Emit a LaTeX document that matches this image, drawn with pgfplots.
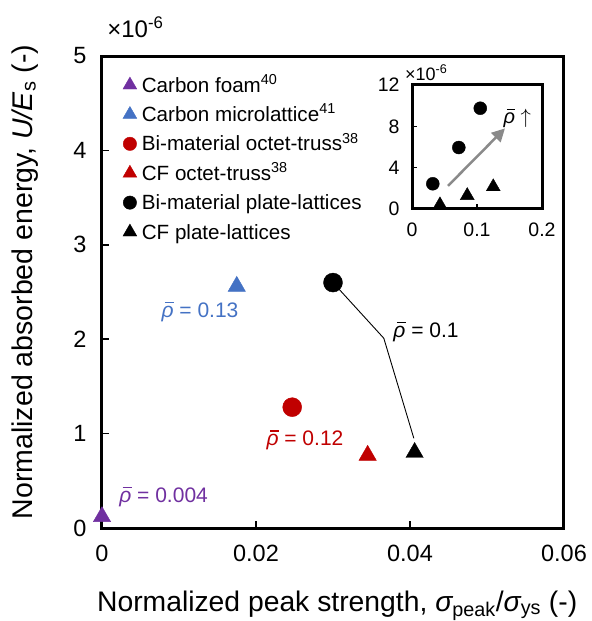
\documentclass[border=0pt]{standalone}
\usepackage{fontspec}
\setmainfont{Liberation Sans}
\usepackage{pgfplots}
\pgfplotsset{compat=1.18}
\usetikzlibrary{arrows.meta}
\definecolor{cpurple}{HTML}{7030A0}
\definecolor{cblue}{HTML}{4472C4}
\definecolor{cred}{HTML}{C00000}
\definecolor{cgray}{HTML}{8A8A8A}
\newcommand{\rb}{\leavevmode\rlap{\hspace{0.16em}\raisebox{0.66em}{\rule{0.42em}{0.065em}}}{\itshape ρ}}
\newcommand{\fs}[1]{\fontsize{#1bp}{#1bp}\selectfont}
\pgfplotsset{
  pt/.style={only marks, legend image code/.code={\draw[##1] plot coordinates {(0bp,0bp)};}},
}
\begin{document}
\begin{tikzpicture}
\begin{axis}[
  scale only axis, width=462bp, height=472bp,
  xmin=0, xmax=0.06, ymin=0, ymax=5,
  scaled x ticks=false, scaled y ticks=false,
  xtick={0,0.02,0.04,0.06}, xticklabels={0,0.02,0.04,0.06},
  ytick={0,1,2,3,4,5}, yticklabels={0,1,2,3,4,5},
  tick align=inside, xtick pos=left, ytick pos=left,
  major tick length=7bp,
  every tick/.style={black, line width=1.5bp},
  axis line style={line width=3bp},
  tick label style={font=\fs{23.5}},
  xticklabel style={yshift=-14bp},
  yticklabel style={xshift=-12bp},
  clip=false,
  xlabel={Normalized peak strength, {\itshape σ}\textsubscript{peak}/{\itshape σ}\textsubscript{ys} (-)},
  ylabel={Normalized absorbed energy, \textit{U/E}\textsubscript{s} (-)},
  every axis x label/.style={at={(axis description cs:0.509,-0.176)}, anchor=base, font=\fs{28.3}},
  every axis y label/.style={at={(axis description cs:-0.1515,0.521)}, anchor=base, rotate=90, font=\fs{28.5}},
  legend cell align=left,
  legend style={
    at={(0.045,0.958)}, anchor=north west,
    draw=none, fill=none, inner sep=0pt,
    font=\fs{20.6},
    nodes={inner sep=0pt, text height=16bp, text depth=2bp},
    row sep=11.4bp, column sep=5bp,
  },
]
\addplot[forget plot, black, line width=0.9bp] coordinates {(0.0300,2.60) (0.0366,2.01) (0.0405,0.95)};
\addplot[pt, color=cpurple, mark=triangle*, mark size=10bp, legend image post style={mark size=8bp}] coordinates {(0.0000,0.12)};
\addlegendentry{Carbon foam\textsuperscript{40}}
\addplot[pt, color=cblue, mark=triangle*, mark size=10bp, legend image post style={mark size=8bp}] coordinates {(0.0175,2.56)};
\addlegendentry{Carbon microlattice\textsuperscript{41}}
\addplot[pt, color=cred, mark=*, mark size=9.5bp, legend image post style={mark size=6.7bp}] coordinates {(0.0247,1.28)};
\addlegendentry{Bi-material octet-truss\textsuperscript{38}}
\addplot[pt, color=cred, mark=triangle*, mark size=10bp, legend image post style={mark size=8bp}] coordinates {(0.0345,0.77)};
\addlegendentry{CF octet-truss\textsuperscript{38}}
\addplot[pt, color=black, mark=*, mark size=9.5bp, legend image post style={mark size=6.7bp}] coordinates {(0.0300,2.60)};
\addlegendentry{Bi-material plate-lattices}
\addplot[pt, color=black, mark=triangle*, mark size=10bp, legend image post style={mark size=8bp}] coordinates {(0.0406,0.80)};
\addlegendentry{CF plate-lattices}
\node[cblue, font=\fs{21}] at (axis cs:0.01273,2.29) {\rb{} = 0.13};
\node[black, font=\fs{21}, anchor=west] at (axis cs:0.0374,2.08) {\rb{} = 0.1};
\node[cred, font=\fs{21}] at (axis cs:0.02636,0.93) {\rb{} = 0.12};
\node[cpurple, font=\fs{21}, anchor=west] at (axis cs:0.0018,0.33) {\rb{} = 0.004};
\node[anchor=west, font=\fs{24}] at (rel axis cs:0.004,1.06) {×10\textsuperscript{-6}};
\end{axis}
\begin{axis}[
  at={(310bp,319bp)}, anchor=south west,
  scale only axis, width=130bp, height=124bp,
  xmin=0, xmax=0.2, ymin=0, ymax=12,
  scaled x ticks=false, scaled y ticks=false,
  xtick={0,0.1,0.2}, xticklabels={0,0.1,0.2},
  ytick={0,4,8,12}, yticklabels={0,4,8,12},
  tick align=inside, xtick pos=left, ytick pos=left,
  major tick length=5bp,
  every tick/.style={black, line width=1.2bp},
  axis line style={line width=3bp},
  tick label style={font=\fs{19.5}},
  xticklabel style={yshift=-10bp},
  yticklabel style={xshift=-9bp},
  clip=false,
]
\draw[cgray, line width=2.5bp, -{Triangle[length=13bp, width=13bp]}] (axis cs:0.0554,2.24) -- (axis cs:0.143,7.8);
\addplot[only marks, color=black, mark=*, mark size=6.5bp] coordinates {(0.032,2.44) (0.072,5.95) (0.105,9.75)};
\addplot[only marks, color=black, mark=triangle*, mark size=8bp] coordinates {(0.043,0.4) (0.085,1.3) (0.125,2.15)};
\node[font=\fs{20}] at (axis cs:0.162,8.8) {\rb{} $\uparrow$};
\node[anchor=west, font=\fs{18}] at (rel axis cs:-0.08,1.1) {×10\textsuperscript{-6}};
\end{axis}
\pgfresetboundingbox
\useasboundingbox (-102bp,-93bp) rectangle (490bp,528bp);
\end{tikzpicture}
\end{document}
